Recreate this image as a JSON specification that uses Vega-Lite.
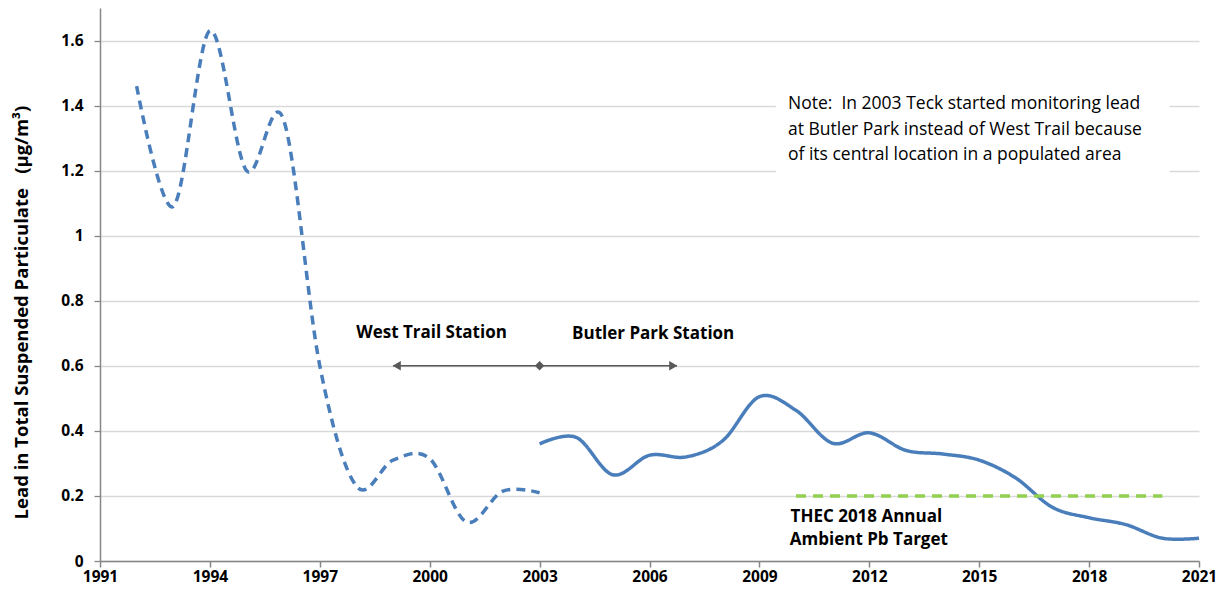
{
  "$schema": "https://vega.github.io/schema/vega-lite/v6.json",
  "width": 1099,
  "height": 553,
  "autosize": {"type": "none"},
  "padding": {"left": 100, "top": 8, "right": 29, "bottom": 29},
  "background": "white",
  "config": {
    "view": {"stroke": null},
    "font": "Open Sans"
  },
  "datasets": {
    "lead": [
      {"year": 1992, "value": 1.46, "station": "West Trail"},
      {"year": 1993, "value": 1.09, "station": "West Trail"},
      {"year": 1994, "value": 1.63, "station": "West Trail"},
      {"year": 1995, "value": 1.2, "station": "West Trail"},
      {"year": 1996, "value": 1.36, "station": "West Trail"},
      {"year": 1997, "value": 0.6, "station": "West Trail"},
      {"year": 1998, "value": 0.23, "station": "West Trail"},
      {"year": 1999, "value": 0.31, "station": "West Trail"},
      {"year": 2000, "value": 0.315, "station": "West Trail"},
      {"year": 2001, "value": 0.12, "station": "West Trail"},
      {"year": 2002, "value": 0.215, "station": "West Trail"},
      {"year": 2003, "value": 0.21, "station": "West Trail"},
      {"year": 2003, "value": 0.36, "station": "Butler Park"},
      {"year": 2004, "value": 0.38, "station": "Butler Park"},
      {"year": 2005, "value": 0.265, "station": "Butler Park"},
      {"year": 2006, "value": 0.325, "station": "Butler Park"},
      {"year": 2007, "value": 0.32, "station": "Butler Park"},
      {"year": 2008, "value": 0.37, "station": "Butler Park"},
      {"year": 2009, "value": 0.505, "station": "Butler Park"},
      {"year": 2010, "value": 0.463, "station": "Butler Park"},
      {"year": 2011, "value": 0.362, "station": "Butler Park"},
      {"year": 2012, "value": 0.394, "station": "Butler Park"},
      {"year": 2013, "value": 0.34, "station": "Butler Park"},
      {"year": 2014, "value": 0.329, "station": "Butler Park"},
      {"year": 2015, "value": 0.31, "station": "Butler Park"},
      {"year": 2016, "value": 0.255, "station": "Butler Park"},
      {"year": 2017, "value": 0.165, "station": "Butler Park"},
      {"year": 2018, "value": 0.133, "station": "Butler Park"},
      {"year": 2019, "value": 0.112, "station": "Butler Park"},
      {"year": 2020, "value": 0.07, "station": "Butler Park"},
      {"year": 2021, "value": 0.07, "station": "Butler Park"}
    ]
  },
  "layer": [
    {
      "data": {"values": [{"x": 2009.45, "x2": 2020.2, "y": 1.18, "y2": 1.48}]},
      "mark": {"type": "rect", "color": "white"},
      "encoding": {
        "x": {"field": "x", "type": "quantitative", "scale": {"domain": [1991, 2021], "nice": false, "zero": false},
          "axis": {"values": [1991, 1994, 1997, 2000, 2003, 2006, 2009, 2012, 2015, 2018, 2021], "format": "d", "title": null, "grid": false,
            "domainColor": "#868686", "domainWidth": 1.5, "tickColor": "#868686", "tickSize": 6, "tickWidth": 1.5,
            "labelFont": "Open Sans", "labelFontWeight": "bold", "labelFontSize": 15.5, "labelColor": "#000000", "labelPadding": 2, "labelFlush": false}},
        "x2": {"field": "x2"},
        "y": {"field": "y", "type": "quantitative", "scale": {"domain": [0, 1.7], "nice": false},
          "axis": {"values": [0, 0.2, 0.4, 0.6, 0.8, 1, 1.2, 1.4, 1.6], "format": "~g", "gridColor": "#d9d9d9", "gridWidth": 1.3,
            "domainColor": "#868686", "domainWidth": 1.5, "ticks": true, "tickSize": 6, "tickColor": "#868686", "tickWidth": 1.3, "labelPadding": 11,
            "labelFont": "Open Sans", "labelFontWeight": "bold", "labelFontSize": 15.5, "labelColor": "#000000",
            "title": "Lead in Total Suspended Particulate\u00a0\u00a0\u00a0(µg/m³)", "titleFont": "Open Sans", "titleFontSize": 18.5, "titleFontWeight": "bold", "titleColor": "#000000",
            "titleX": -79, "titleY": 304, "titleAngle": -90, "titleAlign": "center", "titleBaseline": "middle"}},
        "y2": {"field": "y2"}
      }
    },
    {
      "data": {"name": "lead"},
      "mark": {"type": "line", "interpolate": "cardinal", "strokeWidth": 3.5, "color": "#4a7ebb"},
      "encoding": {
        "x": {"field": "year", "type": "quantitative"},
        "y": {"field": "value", "type": "quantitative"},
        "detail": {"field": "station"},
        "strokeDash": {"field": "station", "type": "nominal", "scale": {"domain": ["West Trail", "Butler Park"], "range": [[9, 6], [1, 0]]}, "legend": null}
      }
    },
    {
      "data": {"values": [{"year": 2010, "value": 0.2}, {"year": 2020, "value": 0.2}]},
      "mark": {"type": "line", "color": "#92d050", "strokeWidth": 3.5, "strokeDash": [10, 7]},
      "encoding": {
        "x": {"field": "year", "type": "quantitative"},
        "y": {"field": "value", "type": "quantitative"}
      }
    },
    {
      "data": {"values": [{"year": 1999, "value": 0.6}, {"year": 2006.75, "value": 0.6}]},
      "mark": {"type": "line", "color": "#595959", "strokeWidth": 1.5},
      "encoding": {
        "x": {"field": "year", "type": "quantitative"},
        "y": {"field": "value", "type": "quantitative"}
      }
    },
    {
      "data": {"values": [
        {"year": 1999.1, "value": 0.6, "shape": "triangle-left"},
        {"year": 2003, "value": 0.6, "shape": "diamond"},
        {"year": 2006.65, "value": 0.6, "shape": "triangle-right"}
      ]},
      "mark": {"type": "point", "filled": true, "color": "#595959", "size": 90, "opacity": 1},
      "encoding": {
        "x": {"field": "year", "type": "quantitative"},
        "y": {"field": "value", "type": "quantitative"},
        "shape": {"field": "shape", "type": "nominal", "scale": {"domain": ["triangle-left", "diamond", "triangle-right"], "range": ["triangle-left", "diamond", "triangle-right"]}, "legend": null}
      }
    },
    {
      "data": {"values": [
        {"year": 2000.05, "value": 0.70, "label": "West Trail Station"},
        {"year": 2006.1, "value": 0.697, "label": "Butler Park Station"}
      ]},
      "mark": {"type": "text", "align": "center", "baseline": "middle", "font": "Open Sans", "fontWeight": "bold", "fontSize": 17, "color": "#000000"},
      "encoding": {
        "x": {"field": "year", "type": "quantitative"},
        "y": {"field": "value", "type": "quantitative"},
        "text": {"field": "label"}
      }
    },
    {
      "data": {"values": [
        {"year": 2009.85, "value": 0.135, "label": "THEC 2018 Annual"},
        {"year": 2009.83, "value": 0.064, "label": "Ambient Pb Target"}
      ]},
      "mark": {"type": "text", "align": "left", "baseline": "middle", "font": "Open Sans", "fontWeight": "bold", "fontSize": 17, "color": "#000000"},
      "encoding": {
        "x": {"field": "year", "type": "quantitative"},
        "y": {"field": "value", "type": "quantitative"},
        "text": {"field": "label"}
      }
    },
    {
      "data": {"values": [
        {"year": 2009.78, "value": 1.404, "label": "Note:\u00a0\u00a0In 2003 Teck started monitoring lead"},
        {"year": 2009.78, "value": 1.324, "label": "at Butler Park instead of West Trail because"},
        {"year": 2009.78, "value": 1.247, "label": "of its central location in a populated area"}
      ]},
      "mark": {"type": "text", "align": "left", "baseline": "middle", "font": "Open Sans", "fontSize": 17.5, "color": "#000000"},
      "encoding": {
        "x": {"field": "year", "type": "quantitative"},
        "y": {"field": "value", "type": "quantitative"},
        "text": {"field": "label"}
      }
    }
  ]
}
